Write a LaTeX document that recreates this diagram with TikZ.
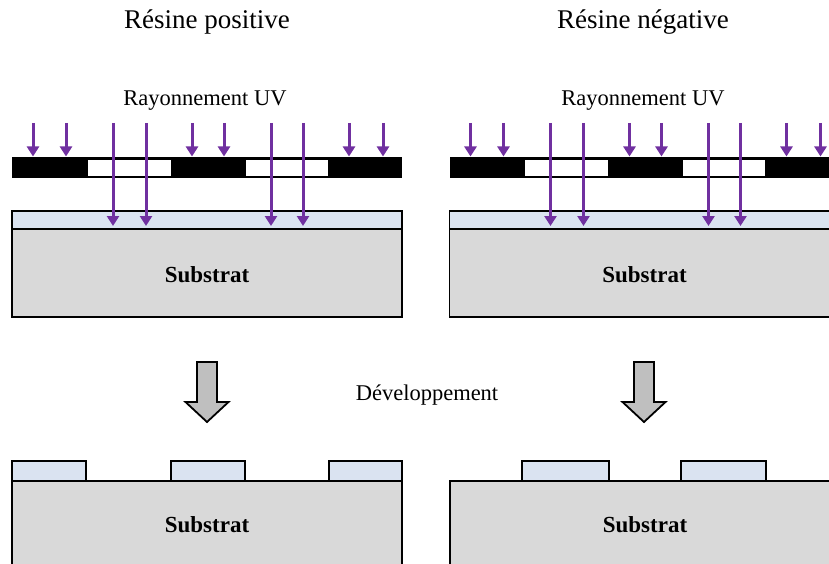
\documentclass[tikz,border=0pt]{standalone}
\usepackage{fontspec}
\setmainfont{Liberation Serif}
\usetikzlibrary{arrows.meta}
\definecolor{resist}{HTML}{DAE3F1}
\definecolor{subst}{HTML}{D9D9D9}
\definecolor{uv}{HTML}{7030A0}
\definecolor{bigarrow}{HTML}{BFBFBF}
\tikzset{
  title/.style={anchor=base,font=\fontsize{27}{30}\selectfont},
  label/.style={anchor=base,font=\fontsize{22.5}{25}\selectfont},
  subtext/.style={anchor=base,font=\fontsize{23}{25}\selectfont\bfseries},
  resistbox/.style={fill=resist,draw=black,line width=1.5pt},
  substbox/.style={fill=subst,draw=black,line width=1.8pt},
  maskbar/.style={fill=black},
  maskhole/.style={fill=white,draw=black,line width=0.6pt},
  uvray/.style={draw=uv,line width=3pt,-{Triangle[width=12pt,length=10pt]}},
  devarrow/.style={fill=bigarrow,draw=black,line width=1.8pt,line join=miter},
}
\newcommand{\exposepanel}[1]{%
  % mask
  \fill[maskbar] (12,157) rectangle (402,178);
  \draw[maskhole] (87,159) rectangle (171,176);
  \draw[maskhole] (245,159) rectangle (328,176);
  % resist and substrate
  \draw[resistbox] (12,211) rectangle (402,229);
  \draw[substbox] (12,229) rectangle (402,317);
  \node[subtext] (#1sub) at (207,282) {Substrat};
  % UV rays
  \foreach \xx [count=\i] in {33,66,192,224,349,383}{
    \coordinate (#1s\i a) at (\xx,123);
    \coordinate (#1s\i b) at (\xx,156.5);
    \draw[uvray] (#1s\i a) -- (#1s\i b);
  }
  \foreach \xx [count=\i] in {113,146,271,303}{
    \coordinate (#1l\i a) at (\xx,123);
    \coordinate (#1l\i b) at (\xx,226);
    \draw[uvray] (#1l\i a) -- (#1l\i b);
  }
}
\begin{document}
\begin{tikzpicture}[x=1pt,y=-1pt]
\useasboundingbox (0,0) rectangle (829,564);
\clip (0,0) rectangle (829,564);
% titles
\node[title] (tpos) at (207,29) {Résine positive};
\node[title] (tneg) at (643,29) {Résine négative};
\node[label] (uvpos) at (205,106) {Rayonnement UV};
\node[label] (uvneg) at (643,106) {Rayonnement UV};
% exposure panels
\exposepanel{P}
\begin{scope}[xshift=437.5pt]
\exposepanel{N}
\end{scope}
% development arrows
\draw[devarrow] (197,362) -- (217,362) -- (217,402) -- (228.5,402) -- (207,422)
  -- (185.5,402) -- (197,402) -- cycle;
\draw[devarrow] (634,362) -- (654,362) -- (654,402) -- (665.5,402) -- (644,422)
  -- (622.5,402) -- (634,402) -- cycle;
\node[label] (dev) at (427,400) {Développement};
% developed, positive
\draw[resistbox] (12,461) rectangle (86,481);
\draw[resistbox] (171,461) rectangle (245,481);
\draw[resistbox] (329,461) rectangle (402,481);
\draw[substbox] (12,481) rectangle (402,590);
\node[subtext] (psub) at (207,532) {Substrat};
% developed, negative
\draw[resistbox] (522,461) rectangle (609,481);
\draw[resistbox] (681,461) rectangle (766,481);
\draw[substbox] (450,481) rectangle (850,590);
\node[subtext] (nsub) at (645,532) {Substrat};
\end{tikzpicture}
\end{document}
